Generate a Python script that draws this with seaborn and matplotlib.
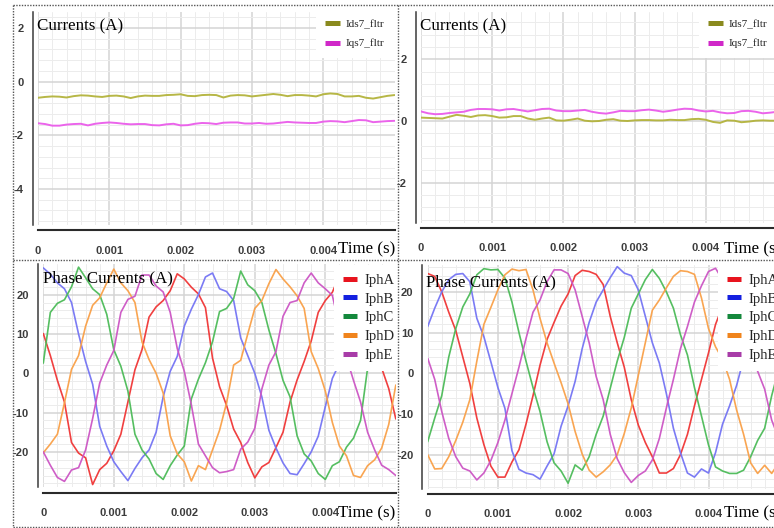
import numpy as np
import pandas as pd
import matplotlib
matplotlib.use("Agg")
import matplotlib.pyplot as plt
import seaborn as sns
from matplotlib.lines import Line2D
from matplotlib.ticker import MultipleLocator, FuncFormatter

# ---------------- data ----------------
time_s = [0.0000, 0.0001, 0.0002, 0.0003, 0.0004, 0.0005, 0.0006, 0.0007, 0.0008, 0.0009,
          0.0010, 0.0011, 0.0012, 0.0013, 0.0014, 0.0015, 0.0016, 0.0017, 0.0018, 0.0019,
          0.0020, 0.0021, 0.0022, 0.0023, 0.0024, 0.0025, 0.0026, 0.0027, 0.0028, 0.0029,
          0.0030, 0.0031, 0.0032, 0.0033, 0.0034, 0.0035, 0.0036, 0.0037, 0.0038, 0.0039,
          0.0040, 0.0041, 0.0042, 0.0043, 0.0044, 0.0045, 0.0046, 0.0047, 0.0048, 0.0049,
          0.0050]

dq_labels = ["Ids7_fltr", "Iqs7_fltr"]
phase_labels = ["IphA", "IphB", "IphC", "IphD", "IphE"]
x_tick_values = [0, 0.001, 0.002, 0.003, 0.004]

ids7_left = [-0.60, -0.57, -0.55, -0.56, -0.59, -0.54, -0.51, -0.52, -0.55, -0.57,
             -0.53, -0.52, -0.55, -0.61, -0.55, -0.52, -0.53, -0.53, -0.50, -0.49,
             -0.47, -0.53, -0.54, -0.50, -0.49, -0.50, -0.59, -0.52, -0.50, -0.51,
             -0.55, -0.52, -0.49, -0.46, -0.49, -0.54, -0.50, -0.50, -0.52, -0.55,
             -0.47, -0.44, -0.46, -0.55, -0.55, -0.53, -0.60, -0.63, -0.58, -0.53, -0.50]
iqs7_left = [-1.55, -1.58, -1.64, -1.64, -1.60, -1.58, -1.57, -1.63, -1.57, -1.54,
             -1.52, -1.54, -1.57, -1.59, -1.58, -1.58, -1.62, -1.63, -1.59, -1.57,
             -1.63, -1.62, -1.57, -1.54, -1.55, -1.58, -1.53, -1.52, -1.52, -1.56,
             -1.56, -1.54, -1.57, -1.56, -1.53, -1.50, -1.52, -1.53, -1.54, -1.54,
             -1.49, -1.47, -1.48, -1.51, -1.47, -1.43, -1.44, -1.51, -1.49, -1.47, -1.46]
ids7_right = [0.11, 0.10, 0.09, 0.08, 0.14, 0.20, 0.17, 0.13, 0.18, 0.19,
              0.16, 0.11, 0.12, 0.16, 0.16, 0.08, 0.04, 0.08, 0.11, 0.02,
              0.01, 0.04, 0.08, 0.01, -0.01, 0.00, 0.04, 0.06, 0.01, 0.00,
              0.02, 0.03, 0.03, 0.02, 0.02, 0.04, 0.03, 0.03, 0.06, 0.07,
              0.04, -0.03, -0.06, 0.02, 0.01, -0.04, -0.02, 0.01, 0.02, 0.01, 0.01]
iqs7_right = [0.31, 0.25, 0.22, 0.23, 0.26, 0.28, 0.30, 0.36, 0.39, 0.39,
              0.38, 0.34, 0.38, 0.39, 0.35, 0.31, 0.35, 0.39, 0.40, 0.34,
              0.32, 0.32, 0.34, 0.36, 0.30, 0.26, 0.24, 0.28, 0.33, 0.32,
              0.32, 0.35, 0.37, 0.34, 0.30, 0.33, 0.37, 0.40, 0.39, 0.34,
              0.31, 0.33, 0.28, 0.25, 0.26, 0.32, 0.33, 0.30, 0.25, 0.27, 0.30]

ipha_left = [10.1, 4.5, -1.8, -7.3, -17.6, -20.3, -21.5, -28.3, -24.5, -22.9,
             -19.7, -15.5, -7.3, 0.9, 6.0, 14.3, 16.9, 18.5, 21.0, 25.3,
             24.0, 21.9, 20.2, 16.7, 3.9, -3.4, -8.2, -14.2, -17.6, -22.7,
             -26.6, -23.8, -22.7, -18.9, -15.0, -7.3, -1.7, 3.0, 8.2, 15.5,
             18.5, 20.6, 24.9, 25.5, 23.5, 21.5, 19.5, 12.0, 1.3, -3.9, -11.6]
iphb_left = [26.8, 25.2, 23.0, 21.5, 18.0, 10.0, 3.0, -2.8, -13.5, -18.5,
             -22.5, -25.0, -27.3, -24.2, -21.5, -19.5, -15.0, -6.0, 0.5, 4.3,
             12.0, 16.3, 20.0, 24.5, 25.5, 21.5, 20.8, 18.5, 9.0, 4.5,
             0.0, -6.0, -14.5, -19.0, -22.8, -25.5, -25.8, -23.0, -20.0, -16.0,
             -8.5, -1.3, 2.5, 6.0, 14.0, 17.0, 22.0, 26.5, 23.0, 21.3, 20.5]
iphc_left = [2.6, 15.5, 17.8, 18.7, 22.0, 27.0, 24.3, 21.5, 20.0, 15.0,
             6.0, 1.8, -4.5, -15.5, -19.5, -21.8, -25.5, -27.0, -23.5, -20.8,
             -18.5, -6.5, -1.5, 2.7, 8.0, 15.7, 16.5, 19.0, 26.0, 22.5,
             21.0, 18.0, 11.0, 5.0, -1.8, -6.0, -15.9, -20.5, -22.3, -25.5,
             -27.0, -23.5, -22.5, -18.8, -16.5, -12.0, 1.3, 7.0, 15.0, 17.0, 18.5]
iphd_left = [-20.2, -18.0, -15.5, -7.5, 1.0, 4.5, 12.0, 17.3, 19.2, 23.0,
             26.5, 23.0, 21.0, 18.0, 8.0, 3.5, 0.0, -5.0, -15.9, -20.5,
             -22.5, -27.4, -23.5, -24.5, -19.5, -14.5, -7.5, 2.1, 3.3, 10.0,
             16.5, 18.5, 22.8, 26.4, 24.0, 22.0, 19.7, 16.5, 5.5, 1.2,
             -4.5, -12.5, -18.5, -21.0, -26.0, -26.5, -23.5, -22.0, -19.0, -13.0, -3.0]
iphe_left = [-20.0, -23.4, -26.5, -27.5, -24.6, -24.0, -19.5, -11.5, -2.5, 2.1,
             5.8, 15.5, 18.8, 19.6, 25.0, 25.0, 22.2, 20.7, 15.5, 6.3,
             0.5, -8.0, -18.0, -21.0, -24.0, -25.3, -25.0, -24.5, -19.3, -17.5,
             -14.0, -4.0, 2.1, 5.5, 14.5, 18.0, 18.5, 23.0, 25.5, 23.0,
             21.5, 19.8, 12.0, 4.0, -1.8, -7.3, -15.0, -19.5, -23.4, -24.5, -26.0]

ipha_right = [24.5, 23.8, 20.0, 15.0, 10.5, 4.0, -2.5, -11.0, -17.5, -22.8,
              -25.5, -25.5, -21.8, -18.8, -12.5, -5.5, 2.0, 8.3, 12.5, 16.5,
              19.5, 24.0, 25.3, 25.0, 24.3, 21.8, 14.0, 7.5, 1.5, -6.5,
              -12.7, -17.0, -20.5, -24.5, -24.5, -23.4, -20.0, -15.0, -8.0, -1.5,
              5.0, 12.0, 16.5, 18.5, 22.0, 24.5, 25.3, 25.0, 24.5, 22.0, 18.0]
iphb_right = [11.5, 16.0, 20.0, 23.0, 24.3, 24.5, 22.5, 13.5, 9.0, 2.8,
              -3.5, -8.6, -19.0, -23.6, -24.5, -24.9, -26.0, -22.8, -19.8, -13.0,
              -8.0, -2.0, 6.0, 12.5, 17.5, 20.5, 23.5, 26.2, 24.6, 24.0,
              20.5, 14.0, 7.5, 2.5, -5.0, -13.5, -19.5, -24.5, -25.5, -23.5,
              -24.5, -19.5, -12.5, -8.0, -3.0, 3.5, 10.0, 16.0, 20.0, 23.5, 25.5]
iphc_right = [-16.8, -11.0, -5.5, 4.0, 11.0, 16.3, 19.5, 24.2, 25.7, 25.4,
              25.5, 23.4, 17.5, 10.0, 3.0, -3.5, -9.4, -16.8, -22.0, -24.0,
              -27.0, -22.5, -23.8, -20.5, -15.0, -10.5, -3.7, 3.0, 8.8, 16.0,
              19.5, 23.0, 25.5, 23.3, 20.0, 16.0, 9.5, 4.5, -3.5, -10.5,
              -17.6, -23.0, -24.0, -24.6, -24.6, -23.8, -20.5, -16.5, -13.5, -5.5, 1.0]
iphd_right = [-20.0, -23.5, -23.4, -20.5, -16.5, -12.0, -6.5, 3.0, 12.0, 16.2,
              20.5, 24.2, 25.6, 25.2, 25.5, 20.5, 13.5, 7.5, 2.5, -2.3,
              -7.5, -14.3, -19.8, -23.8, -25.5, -24.2, -22.5, -20.0, -14.8, -8.5,
              -0.5, 7.5, 15.5, 18.0, 21.0, 23.8, 25.2, 25.0, 24.3, 18.5,
              11.0, 6.5, 3.5, -1.5, -9.0, -15.0, -22.0, -24.6, -22.6, -24.6, -22.0]
iphe_right = [3.7, -1.5, -9.4, -16.0, -20.5, -23.3, -24.0, -26.2, -24.5, -21.4,
              -17.0, -11.5, -5.0, 1.5, 8.5, 15.0, 18.0, 22.5, 25.4, 25.4,
              24.5, 20.5, 14.0, 7.5, -0.8, -6.5, -15.0, -21.0, -24.4, -26.8,
              -25.1, -24.0, -21.3, -16.0, -8.5, -1.5, 6.0, 11.5, 17.5, 21.5,
              25.0, 25.8, 23.0, 20.0, 16.0, 11.0, 5.0, 0.5, -3.9, -11.5, -16.0]

# ---------------- style ----------------
sns.set_style("white")
plt.rcParams["font.family"] = ["Liberation Sans Narrow", "Liberation Sans", "DejaVu Sans"]
plt.rcParams["axes.unicode_minus"] = False
SERIF = ["Liberation Serif", "DejaVu Serif"]

W, H = 774, 528
fig = plt.figure(figsize=(W / 100, H / 100), dpi=100)
fig.patch.set_facecolor("white")

line_col_dq = {"Ids7_fltr": "#b3b33c", "Iqs7_fltr": "#ea5cea"}
patch_col_dq = {"Ids7_fltr": "#8a8a1e", "Iqs7_fltr": "#d028c8"}
line_col_ph = {"IphA": "#f03535", "IphB": "#7474f4", "IphC": "#4cbb58",
               "IphD": "#f9a048", "IphE": "#cc55c4"}
patch_col_ph = {"IphA": "#e8141e", "IphB": "#1420e0", "IphC": "#14883c",
                "IphD": "#f0841c", "IphE": "#a83ca8"}


def rect(x0, x1, ytop, ybot):
    return [x0 / W, 1 - ybot / H, (x1 - x0) / W, (ybot - ytop) / H]


def fx(px):
    return px / W


def fy(py):
    return 1 - py / H


def style_axes(ax, ylim, ymaj, ymin):
    ax.set_xlim(0, 0.005)
    ax.set_ylim(*ylim)
    for s in ["top", "right"]:
        ax.spines[s].set_visible(False)
    ax.spines["left"].set_position(("outward", 3.8))
    ax.spines["bottom"].set_position(("outward", 3.8))
    ax.spines["left"].set_color("#3a3a3a")
    ax.spines["left"].set_linewidth(1.1)
    ax.spines["bottom"].set_color("#2a2a2a")
    ax.spines["bottom"].set_linewidth(1.5)
    ax.xaxis.set_major_locator(MultipleLocator(0.001))
    ax.xaxis.set_minor_locator(MultipleLocator(0.0002))
    ax.set_xticks(x_tick_values)
    ax.xaxis.set_major_formatter(FuncFormatter(lambda v, p: "0" if abs(v) < 1e-12 else f"{v:.3f}"))
    ax.yaxis.set_major_locator(MultipleLocator(ymaj))
    ax.yaxis.set_minor_locator(MultipleLocator(ymin))
    ax.yaxis.set_major_formatter(FuncFormatter(lambda v, p: f"{v:g}"))
    ax.tick_params(axis="x", which="major", direction="out", length=4.5, width=1.1,
                   color="#2a2a2a", pad=6.5, labelsize=8, labelcolor="#3c3c3c")
    ax.tick_params(axis="x", which="minor", direction="out", length=3, width=1.0, color="#2a2a2a")
    ax.tick_params(axis="y", which="major", direction="out", length=2.5, width=1.0,
                   color="#3a3a3a", pad=4, labelsize=8, labelcolor="#3c3c3c")
    ax.tick_params(axis="y", which="minor", direction="out", length=1.5, width=0.8, color="#3a3a3a")
    for lbl in ax.get_xticklabels() + ax.get_yticklabels():
        lbl.set_fontweight("bold")
    ax.grid(True, which="major", color="#d4d4d4", linewidth=1.1)
    ax.grid(True, which="minor", color="#ececec", linewidth=0.7)
    ax.set_axisbelow(True)
    ax.set_xlabel("")
    ax.set_ylabel("")


def draw_panel(ax, series, labels, line_cols, lw):
    frames = [pd.DataFrame({"Time": time_s, "Current": vals, "Signal": lab})
              for lab, vals in zip(labels, series)]
    df = pd.concat(frames, ignore_index=True)
    sns.lineplot(data=df, x="Time", y="Current", hue="Signal", hue_order=labels,
                 palette=line_cols, ax=ax, legend=False, estimator=None,
                 linewidth=lw, alpha=0.95)


def add_legend(ax, labels, cols, fontsize, x0, x1, ytop, hl, hpad, lspace, bpad):
    handles = [Line2D([0], [0], color=cols[l], lw=3.6, solid_capstyle="butt") for l in labels]
    leg = ax.legend(handles, labels, loc="upper left", mode="expand",
                    bbox_to_anchor=(fx(x0), fy(ytop) - 0.3, fx(x1) - fx(x0), 0.3),
                    bbox_transform=fig.transFigure, borderaxespad=0,
                    frameon=True, facecolor="white", edgecolor="none", framealpha=1,
                    fancybox=False, prop={"family": SERIF, "size": fontsize},
                    handlelength=hl, handletextpad=hpad, labelspacing=lspace,
                    borderpad=bpad)
    leg.set_zorder(20)
    return leg


# ---------------- panels ----------------
ax_tl = fig.add_axes(rect(38, 394.5, 11.9, 225.2))
draw_panel(ax_tl, [ids7_left, iqs7_left], dq_labels, line_col_dq, 1.4)
style_axes(ax_tl, (-5.35, 2.6), 2, 0.4)
add_legend(ax_tl, dq_labels, patch_col_dq, 8, 316, 394.5, 10, 1.35, 0.45, 0.85, 0.85)

ax_tr = fig.add_axes(rect(421, 777, 11.7, 222.6))
draw_panel(ax_tr, [ids7_right, iqs7_right], dq_labels, line_col_dq, 1.4)
style_axes(ax_tr, (-3.3, 3.55), 2, 0.4)
add_legend(ax_tr, dq_labels, patch_col_dq, 8, 699, 777, 10, 1.35, 0.45, 0.85, 0.85)

ax_bl = fig.add_axes(rect(43.3, 395.8, 264.0, 487.3))
draw_panel(ax_bl, [ipha_left, iphb_left, iphc_left, iphd_left, iphe_left],
           phase_labels, line_col_ph, 1.2)
style_axes(ax_bl, (-29, 27.8), 10, 2)
add_legend(ax_bl, phase_labels, patch_col_ph, 10.5, 334, 395.8, 264.5, 0.96, 0.5, 0.38, 0.62)

ax_br = fig.add_axes(rect(427.7, 778.7, 265.0, 488.5))
draw_panel(ax_br, [ipha_right, iphb_right, iphc_right, iphd_right, iphe_right],
           phase_labels, line_col_ph, 1.2)
style_axes(ax_br, (-28.3, 26.6), 10, 2)
add_legend(ax_br, phase_labels, patch_col_ph, 10.5, 718, 778.7, 264.5, 0.96, 0.5, 0.38, 0.62)

# ---------------- texts ----------------
title_kw = dict(family=SERIF, fontsize=12.2, ha="left", va="center", color="black", zorder=30)
fig.text(fx(37), fy(26), "Currents (A)", **title_kw)
fig.text(fx(420), fy(26), "Currents (A)", **title_kw)
fig.text(fx(43), fy(278), "Phase Currents (A)", **title_kw)
fig.text(fx(426), fy(282), "Phase Currents (A)", **title_kw)

time_kw = dict(family=SERIF, fontsize=12.2, ha="right", va="center", color="black")
fig.text(fx(395), fy(249), "Time (s)", **time_kw)
fig.text(fx(781), fy(249), "Time (s)", **time_kw)
fig.text(fx(395), fy(513), "Time (s)", **time_kw)
fig.text(fx(781), fy(513), "Time (s)", **time_kw)

# ---------------- dotted panel frames ----------------
dot_kw = dict(transform=fig.transFigure, color="#555555", linestyle=(0, (1, 1)), linewidth=1.0)
fig.add_artist(Line2D([fx(13), 1], [fy(5), fy(5)], **dot_kw))
fig.add_artist(Line2D([fx(13), 1], [fy(259.5), fy(259.5)], **dot_kw))
fig.add_artist(Line2D([fx(13), 1], [fy(527), fy(527)], **dot_kw))
fig.add_artist(Line2D([fx(13), fx(13)], [fy(5), fy(527)], **dot_kw))
fig.add_artist(Line2D([fx(398.5), fx(398.5)], [fy(5), fy(527)], **dot_kw))

fig.savefig("out.png", dpi=100, facecolor="white")
